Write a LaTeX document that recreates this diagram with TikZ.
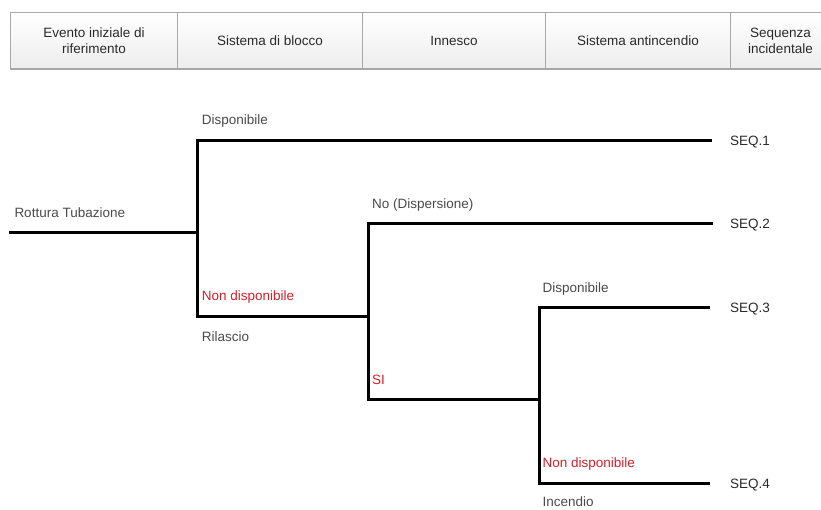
\documentclass[tikz,border=0pt]{standalone}
\usepackage{fontspec}
\setmainfont{Liberation Sans}
\usetikzlibrary{calc}
\definecolor{labelgray}{HTML}{4A4A4A}
\definecolor{labelred}{HTML}{D0202A}
\definecolor{headtext}{HTML}{2A2A2A}
\definecolor{cellborder}{HTML}{A8A8A8}
\tikzset{
  x=1pt, y=-1pt,
  txt/.style={font=\fontsize{13.5}{16.3}\selectfont, inner sep=0pt, anchor=base west},
  branchlabel/.style={txt, text=labelgray},
  faillabel/.style={txt, text=labelred},
  seqlabel/.style={txt, text=headtext},
  headcell/.style={draw=cellborder, line width=1pt, top color=white, bottom color=black!7,
    minimum height=55.5pt, inner sep=0pt, anchor=north west, align=center,
    text=headtext, font=\fontsize{13.5}{16.3}\selectfont},
  branch/.style={line width=3pt, line join=miter, line cap=rect, draw=black},
}
\begin{document}
\begin{tikzpicture}
\useasboundingbox (0,0) rectangle (821,509);
\clip (0,0) rectangle (821,509);

% header row with a soft shadow below
\fill[black!35] (10,14) rectangle (832,69.8);
\node[headcell, minimum width=167pt] (h1) at (10,12.3) {Evento iniziale di\\riferimento};
\node[headcell, minimum width=185pt] (h2) at (177,12.3) {Sistema di blocco};
\node[headcell, minimum width=183pt] (h3) at (362,12.3) {Innesco};
\node[headcell, minimum width=185pt] (h4) at (545,12.3) {Sistema antincendio};
\node[headcell, minimum width=100pt] (h5) at (730,12.3) {Sequenza\\incidentale};

% branch points of the event tree
\coordinate (start) at (10,232.5);
\coordinate (j1) at (197.5,232.5);
\coordinate (j1top) at (197.5,140);
\coordinate (j1bot) at (197.5,316);
\coordinate (j2) at (368.5,316);
\coordinate (j2top) at (368.5,223.5);
\coordinate (j2bot) at (368.5,399.5);
\coordinate (j3) at (539,399.5);
\coordinate (j3top) at (539,307.5);
\coordinate (j3bot) at (539,483.5);
\coordinate (e1) at (710,140);
\coordinate (e2) at (711,223.5);
\coordinate (e3) at (708,307.5);
\coordinate (e4) at (708,483.5);

% tree branches
\draw[branch] (start) -- (j1);
\draw[branch] (e1) -- (j1top) -- (j1bot) -- (j2);
\draw[branch] (e2) -- (j2top) -- (j2bot) -- (j3);
\draw[branch] (e3) -- (j3top) -- (j3bot) -- (e4);

% branch labels
\node[branchlabel] (lroot) at (14.3,217) {Rottura Tubazione};
\node[branchlabel] (l1a) at (201.7,124) {Disponibile};
\node[faillabel]   (l1b) at (201.7,300.5) {Non disponibile};
\node[branchlabel] (l1c) at (201.7,341) {Rilascio};
\node[branchlabel] (l2a) at (372,208.5) {No (Dispersione)};
\node[faillabel]   (l2b) at (372,384) {SI};
\node[branchlabel] (l3a) at (542.5,292) {Disponibile};
\node[faillabel]   (l3b) at (542.5,467.5) {Non disponibile};
\node[branchlabel] (l3c) at (542.5,506.5) {Incendio};

% outcome sequences
\node[seqlabel] (s1) at (730,145) {SEQ.1};
\node[seqlabel] (s2) at (730,228.7) {SEQ.2};
\node[seqlabel] (s3) at (730,312.7) {SEQ.3};
\node[seqlabel] (s4) at (730,488.7) {SEQ.4};
\end{tikzpicture}
\end{document}
